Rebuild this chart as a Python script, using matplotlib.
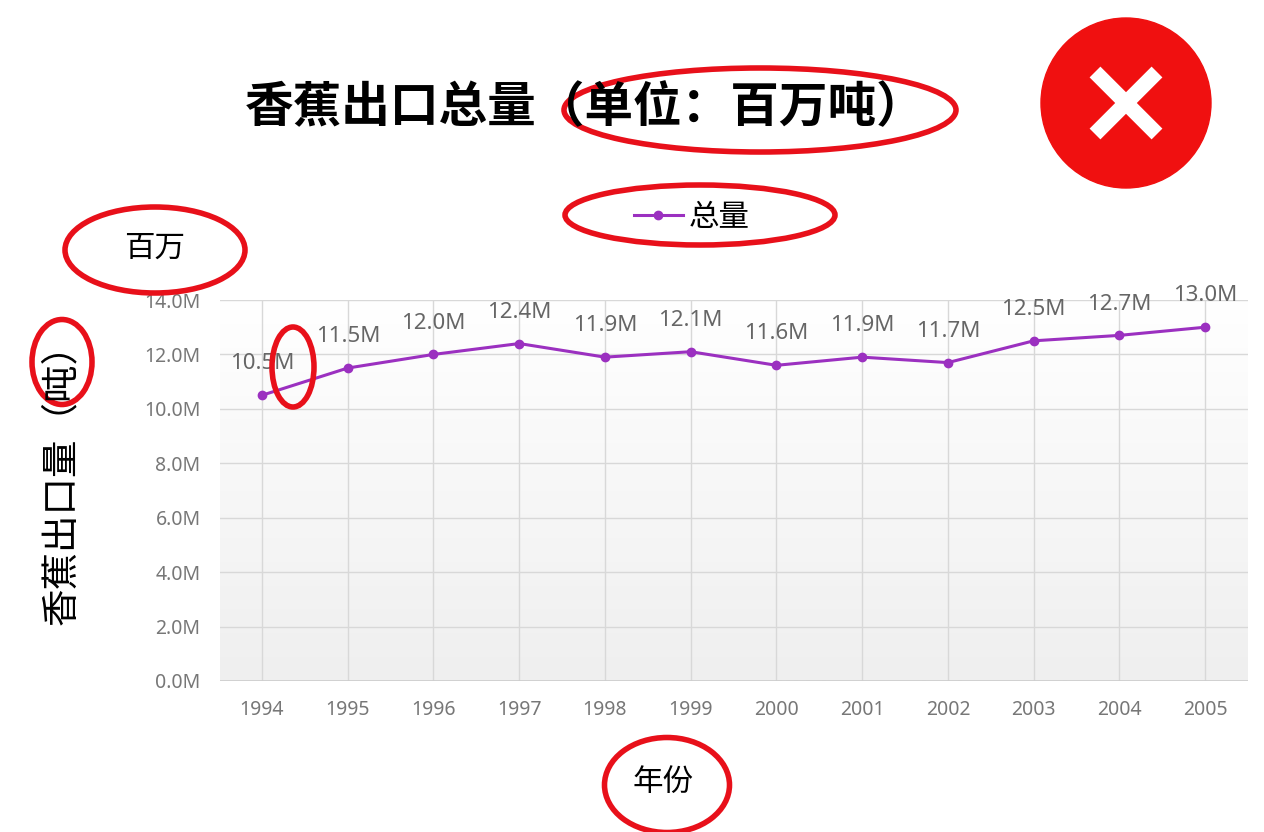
import matplotlib
matplotlib.use("Agg")
import matplotlib.pyplot as plt
import numpy as np
from matplotlib.patches import Ellipse, Circle

plt.rcParams['font.family'] = ['Noto Sans CJK SC', 'DejaVu Sans']

years = [1994, 1995, 1996, 1997, 1998, 1999, 2000, 2001, 2002, 2003, 2004, 2005]
totals = [10.5, 11.5, 12.0, 12.4, 11.9, 12.1, 11.6, 11.9, 11.7, 12.5, 12.7, 13.0]
yticks = [0, 2, 4, 6, 8, 10, 12, 14]

W, H = 1264, 832
fig = plt.figure(figsize=(W/100, H/100), dpi=100)
ax = fig.add_axes([220/W, 1-681/H, 1028/W, 381/H])
ax.set_xlim(1993.51, 2005.5)
ax.set_ylim(0, 14)

grad = np.linspace(0, 1, 256).reshape(-1, 1)
ax.imshow(grad, extent=[1993.51, 2005.5, 0, 14], aspect='auto', origin='lower',
          cmap=matplotlib.colors.LinearSegmentedColormap.from_list('g', ['#efefef', '#ffffff']),
          zorder=0)

purple = '#9b30c0'
ax.plot(years, totals, color=purple, lw=2.2, marker='o', ms=6, zorder=3, label='总量')
for x, y in zip(years, totals):
    ax.annotate(f'{y:.1f}M', (x, y), xytext=(0, 15), textcoords='offset points',
                ha='center', va='bottom', fontsize=16, color='#666666', fontweight='medium',
                family=['Noto Sans', 'DejaVu Sans'])

ax.set_xticks(years)
ax.set_xticklabels([str(y) for y in years])
ax.set_yticks(yticks)
ax.set_yticklabels([f'{v:.1f}M' for v in yticks])
for lab in ax.get_xticklabels() + ax.get_yticklabels():
    lab.set_family(['Noto Sans', 'DejaVu Sans'])
ax.tick_params(colors='#777777', labelsize=14, length=0, pad=14)
ax.grid(True, color='#d8d8d8', lw=1)
for s in ax.spines.values():
    s.set_visible(False)
ax.axhline(0, color='#cccccc', lw=1.2)

fig.legend(*ax.get_legend_handles_labels(), loc='center', bbox_to_anchor=(692/W, 1-217/H),
           frameon=False, fontsize=22, handlelength=1.6, handletextpad=0.2)

fig.text(585/W, 1-108/H, '香蕉出口总量（单位：百万吨）', ha='center', va='center',
         fontsize=35, fontweight='bold')
fig.text(155/W, 1-248/H, '百万', ha='center', va='center', fontsize=22)
fig.text(62/W, 1-475/H, '香蕉出口量（吨）', ha='center', va='center', fontsize=27, rotation=90)
fig.text(663/W, 1-782/H, '年份', ha='center', va='center', fontsize=22)

ov = fig.add_axes([0, 0, 1, 1])
ov.set_xlim(0, W); ov.set_ylim(H, 0); ov.axis('off')
red = '#e8101a'
for cx, cy, w, h in [(760, 110, 392, 84), (700, 215, 270, 60), (155, 250, 180, 86),
                     (62, 362, 60, 85), (293, 367, 42, 80), (667, 785, 125, 95)]:
    ov.add_patch(Ellipse((cx, cy), w, h, fill=False, ec=red, lw=4))
ov.add_patch(Circle((1126, 103), 85, color='#f01010'))
ov.plot([1095, 1157], [72, 134], color='white', lw=11, solid_capstyle='butt')
ov.plot([1095, 1157], [134, 72], color='white', lw=11, solid_capstyle='butt')

fig.savefig('out.png', dpi=100)
